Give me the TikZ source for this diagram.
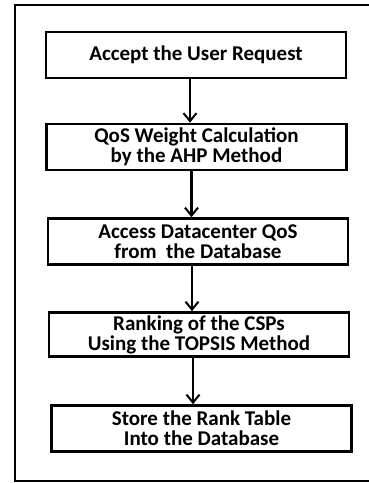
\documentclass[tikz,border=0pt]{standalone}
\usepackage{fontspec}
\setmainfont{Carlito}
\usetikzlibrary{arrows.meta}

\tikzset{
  stepbox/.style={draw, line width=2.6pt, minimum width=300pt, minimum height=46pt,
    align=center, inner sep=0pt, font=\fontsize{21}{20}\selectfont\bfseries},
  flow/.style={line width=2.2pt, -{Straight Barb[length=8pt, width=13pt, line width=2pt]}}
}

\begin{document}
\begin{tikzpicture}[x=1pt, y=-1pt]

      \useasboundingbox (0,0) rectangle (369,483);

      % outer frame, open on the right
      \draw[line width=2pt] (369,5) -- (15,5) -- (15,481) -- (369,481);

      \node[stepbox] (accept) at (196,55)    {Accept the User Request};
      \node[stepbox] (ahp)    at (196.5,147) {QoS Weight Calculation\\ by the AHP Method};
      \node[stepbox] (access) at (198,241.5) {Access Datacenter QoS\\from\ \ the Database};
      \node[stepbox, minimum height=44pt] (topsis) at (199,334.5) {Ranking of the CSPs\\Using the TOPSIS Method};
      \node[stepbox] (store)  at (201.5,428.5) {Store the Rank Table\\Into the Database};

      % arrows, a bit left of centre
      \draw[flow] ([xshift=-6pt]accept.south) -- ([xshift=-6pt]accept.south |- ahp.north);
      \draw[flow] ([xshift=-5pt]ahp.south) -- ([xshift=-5pt]ahp.south |- access.north);
      \draw[flow] ([xshift=-6pt]access.south) -- ([xshift=-6pt]access.south |- topsis.north);
      \draw[flow] ([xshift=-6pt]topsis.south) -- ([xshift=-6pt]topsis.south |- store.north);

\end{tikzpicture}
\end{document}
